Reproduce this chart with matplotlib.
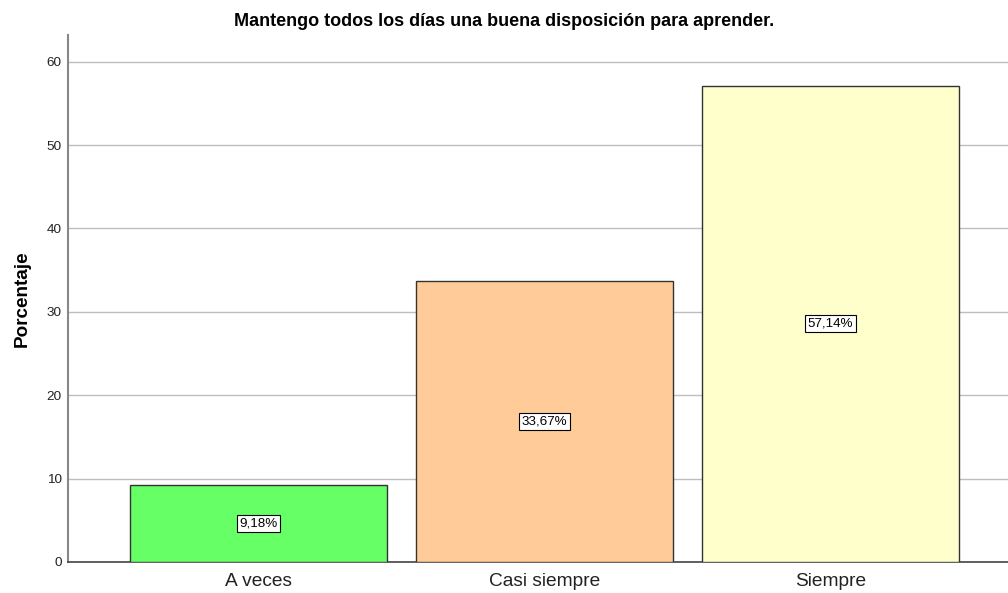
import matplotlib
matplotlib.use("Agg")
import matplotlib.pyplot as plt

categories = ["A veces", "Casi siempre", "Siempre"]
values = [9.18, 33.67, 57.14]
colors = ["#66FF66", "#FFCC99", "#FFFFCC"]
yticks = [0, 10, 20, 30, 40, 50, 60]

plt.rcParams['font.family'] = ['Liberation Sans', 'DejaVu Sans']

fig = plt.figure(figsize=(10.08, 5.93), dpi=100)
ax = fig.add_axes([68/1008, 1 - 562/593, 1 - 68/1008, (562 - 35)/593])

x = list(range(len(categories)))
ax.bar(x, values, width=0.9, color=colors, edgecolor="#333333", linewidth=1.0, zorder=3)
for xi, v in zip(x, values):
    ax.text(xi, v / 2, f"{v:.2f}%".replace(".", ","), ha="center", va="center", fontsize=9.6,
            bbox=dict(boxstyle="square,pad=0.2", facecolor="white", edgecolor="black", linewidth=0.8),
            zorder=4)

ax.set_xlim(-0.666, 2.62)
ax.set_ylim(0, 63.2)
ax.set_yticks(yticks)
ax.set_yticklabels([str(t) for t in yticks], fontsize=9.7, color="#222222")
ax.set_xticks(x)
ax.set_xticklabels(categories, fontsize=13.8, color="#222222")
ax.tick_params(axis="x", length=0, pad=8)
ax.tick_params(axis="y", length=0, pad=4.5)
ax.grid(axis="y", color="#BDBDBD", linewidth=1.0, zorder=0)
ax.set_axisbelow(True)
for s in ["top", "right"]:
    ax.spines[s].set_visible(False)
ax.spines["left"].set_color("#888888")
ax.spines["left"].set_linewidth(1.5)
ax.spines["bottom"].set_color("#444444")
ax.spines["bottom"].set_linewidth(1.2)

ax.set_ylabel("Porcentaje", fontsize=13.6, fontweight="bold")
ax.yaxis.set_label_coords(-0.04, 0.5)
fig.text(0.5, 1 - 21/593, "Mantengo todos los días una buena disposición para aprender.",
         ha="center", va="center", fontsize=13, fontweight="bold")

fig.savefig("out.png", dpi=100)
